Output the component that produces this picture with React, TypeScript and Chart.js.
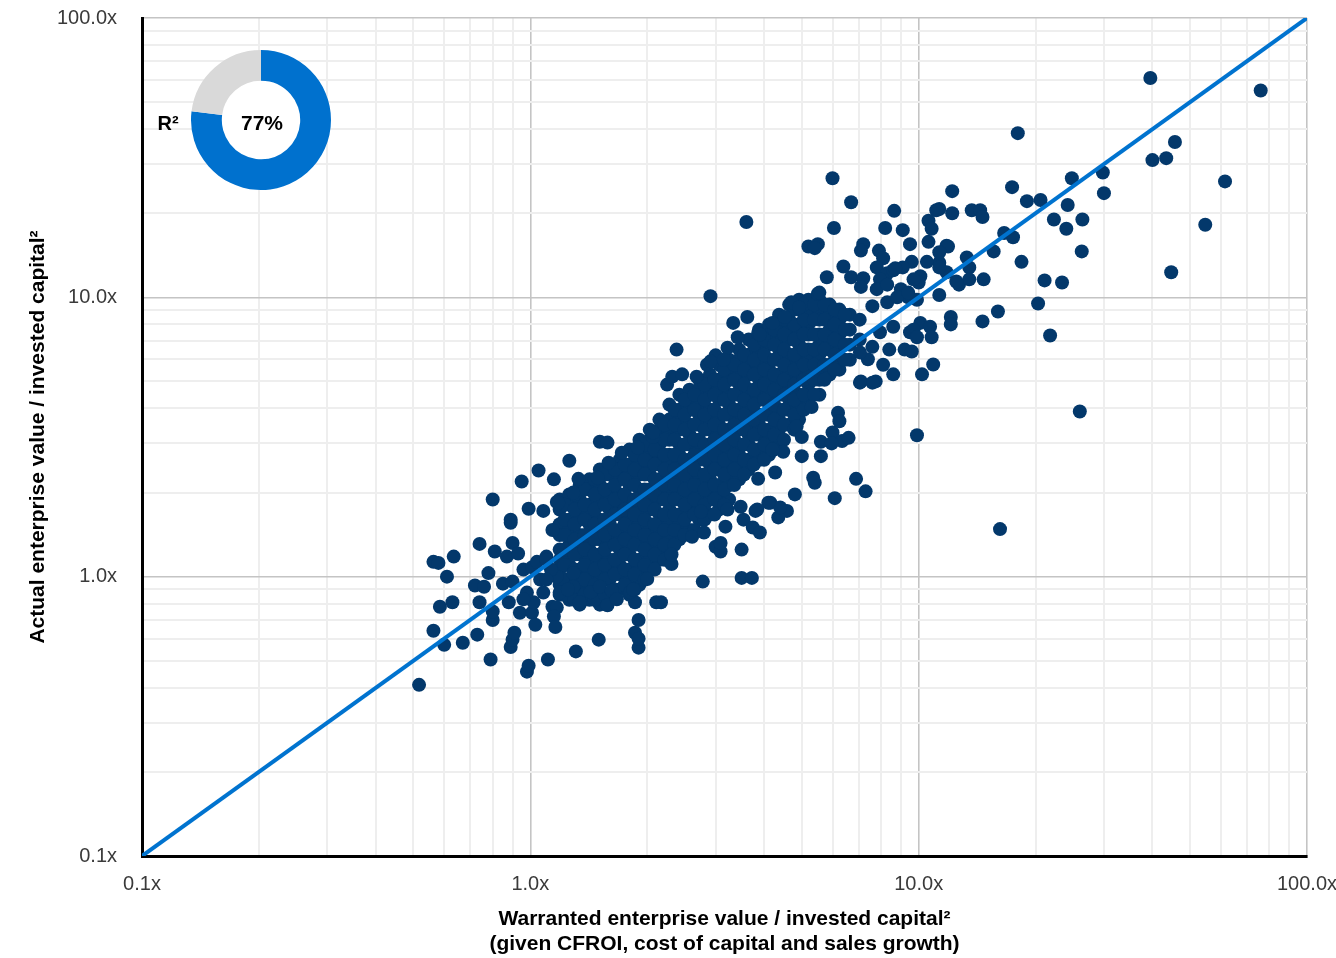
import React, { useEffect, useRef } from 'react';
import { Chart, registerables } from 'chart.js';

Chart.register(...registerables);

// ---------- axis / labels ----------
const axisMin = 0.1;
const axisMax = 100;
const gridValues = [
  0.1, 0.2, 0.3, 0.4, 0.5, 0.6, 0.7, 0.8, 0.9,
  1, 2, 3, 4, 5, 6, 7, 8, 9,
  10, 20, 30, 40, 50, 60, 70, 80, 90,
  100,
];
const labelledValues = [0.1, 1, 10, 100];
const tickLabels = ['0.1x', '1.0x', '10.0x', '100.0x'];
const xTitle = ['Warranted enterprise value / invested capital²', '(given CFROI, cost of capital and sales growth)'];
const yTitle = 'Actual enterprise value / invested capital²';
const parityLine = [0.1, 100];
const rSquared = 77;

// ---------- dense core of the cloud (warranted x, list of actual y) ----------
const coreX = [1.19, 1.26, 1.34, 1.42, 1.51, 1.6, 1.7, 1.8, 1.91, 2.03, 2.15, 2.28, 2.42, 2.57, 2.72, 2.9, 3.06, 3.25, 3.45, 3.65, 3.88, 4.12, 4.37, 4.64, 4.92, 5.2, 5.55, 5.9, 6.25, 6.65, 7.05];
const coreY = [
  [1.89, 1.74, 1.54, 1.41, 1.25, 1.15, 1.06, 0.936, 0.862],
  [1.97, 1.81, 1.6, 1.47, 1.3, 1.2, 1.1, 0.976, 0.899, 0.827],
  [2.13, 1.89, 1.74, 1.6, 1.41, 1.3, 1.2, 1.06, 0.976, 0.899, 0.794],
  [2.23, 2.05, 1.81, 1.67, 1.54, 1.36, 1.25, 1.15, 1.02, 0.936, 0.827],
  [2.42, 2.13, 1.97, 1.81, 1.6, 1.47, 1.36, 1.2, 1.1, 1.02, 0.899, 0.794],
  [2.52, 2.32, 2.05, 1.89, 1.74, 1.54, 1.41, 1.3, 1.15, 1.06, 0.976, 0.862],
  [2.62, 2.42, 2.23, 1.97, 1.81, 1.67, 1.47, 1.36, 1.25, 1.1, 1.02, 0.899],
  [2.85, 2.52, 2.32, 2.13, 1.89, 1.74, 1.6, 1.41, 1.3, 1.2, 1.06, 0.976, 0.862],
  [3.09, 2.73, 2.52, 2.32, 2.05, 1.89, 1.74, 1.54, 1.41, 1.3, 1.15, 1.06, 0.936],
  [3.36, 3.09, 2.73, 2.52, 2.32, 2.05, 1.89, 1.74, 1.54, 1.41, 1.3, 1.15, 1.06],
  [3.65, 3.36, 2.97, 2.73, 2.52, 2.23, 2.05, 1.89, 1.67, 1.54, 1.41, 1.25, 1.15],
  [4.13, 3.65, 3.36, 3.09, 2.73, 2.52, 2.32, 2.05, 1.89, 1.74, 1.54, 1.41, 1.25],
  [4.48, 3.96, 3.65, 3.36, 2.97, 2.73, 2.52, 2.23, 2.05, 1.89, 1.67, 1.54, 1.36],
  [4.67, 4.3, 3.96, 3.5, 3.22, 2.97, 2.62, 2.42, 2.23, 1.97, 1.81, 1.67, 1.47],
  [5.07, 4.67, 4.13, 3.8, 3.5, 3.09, 2.85, 2.62, 2.32, 2.13, 1.97, 1.74, 1.6],
  [5.29, 4.87, 4.48, 3.96, 3.65, 3.36, 2.97, 2.73, 2.52, 2.23, 2.05, 1.89, 1.67],
  [5.74, 5.07, 4.67, 4.3, 3.8, 3.5, 3.22, 2.85, 2.62, 2.42, 2.13, 1.97, 1.74],
  [5.98, 5.51, 5.07, 4.48, 4.13, 3.8, 3.36, 3.09, 2.85, 2.52, 2.32, 2.13, 1.89],
  [6.5, 5.98, 5.29, 4.87, 4.48, 3.96, 3.65, 3.36, 2.97, 2.73, 2.52, 2.23],
  [7.06, 6.23, 5.74, 5.29, 4.67, 4.3, 3.96, 3.5, 3.22, 2.97, 2.62, 2.42],
  [7.66, 6.77, 6.23, 5.74, 5.07, 4.67, 4.3, 3.8, 3.5, 3.22, 2.85, 2.62],
  [7.99, 7.36, 6.77, 5.98, 5.51, 5.07, 4.48, 4.13, 3.8, 3.36, 3.09, 2.73],
  [8.67, 7.99, 7.06, 6.5, 5.98, 5.29, 4.87, 4.48, 3.96, 3.65, 3.36, 2.97],
  [9.42, 8.32, 7.66, 7.06, 6.23, 5.74, 5.29, 4.67, 4.3, 3.96, 3.5],
  [9.81, 9.04, 7.99, 7.36, 6.77, 5.98, 5.51, 5.07, 4.48, 4.13, 3.65],
  [9.81, 8.67, 7.99, 7.36, 6.5, 5.98, 5.51, 4.87, 4.48, 4.13],
  [9.81, 9.04, 8.32, 7.36, 6.77, 6.23, 5.51, 5.07, 4.48],
  [9.42, 8.67, 7.66, 7.06, 6.5, 5.74, 5.29],
  [9.04, 8.32, 7.36, 6.77, 5.98, 5.51],
  [8.67, 7.66, 6.77, 5.98],
  [8.32, 7.06],
];

// in-between columns of the dense core
const coreMidX = [1.225, 1.3, 1.38, 1.465, 1.555, 1.65, 1.75, 1.855, 1.97, 2.09, 2.215, 2.35, 2.495, 2.645, 2.81, 2.98, 3.155, 3.35, 3.55, 3.765, 4.0, 4.245, 4.5, 4.78, 5.06, 5.375, 5.72, 6.07, 6.45];
const coreMidY = [
  [1.81, 1.6, 1.41, 1.25, 1.1, 0.976, 0.862],
  [1.97, 1.74, 1.54, 1.36, 1.2, 1.06, 0.936, 0.827],
  [2.05, 1.81, 1.6, 1.41, 1.25, 1.1, 0.976, 0.862],
  [2.23, 1.97, 1.74, 1.54, 1.36, 1.2, 1.06, 0.936, 0.827],
  [2.32, 2.05, 1.81, 1.6, 1.41, 1.25, 1.1, 0.976, 0.862],
  [2.42, 2.13, 1.89, 1.67, 1.47, 1.3, 1.15, 1.02, 0.899],
  [2.52, 2.23, 1.97, 1.74, 1.54, 1.36, 1.2, 1.06, 0.936],
  [2.73, 2.42, 2.13, 1.89, 1.67, 1.47, 1.3, 1.15, 1.02, 0.899],
  [2.97, 2.62, 2.32, 2.05, 1.81, 1.6, 1.41, 1.25, 1.1, 0.976],
  [3.22, 2.85, 2.52, 2.23, 1.97, 1.74, 1.54, 1.36, 1.2, 1.06],
  [3.5, 3.09, 2.73, 2.42, 2.13, 1.89, 1.67, 1.47, 1.3, 1.15],
  [3.96, 3.5, 3.09, 2.73, 2.42, 2.13, 1.89, 1.67, 1.47, 1.3],
  [4.3, 3.8, 3.36, 2.97, 2.62, 2.32, 2.05, 1.81, 1.6, 1.41],
  [4.48, 3.96, 3.5, 3.09, 2.73, 2.42, 2.13, 1.89, 1.67, 1.47],
  [4.87, 4.3, 3.8, 3.36, 2.97, 2.62, 2.32, 2.05, 1.81, 1.6],
  [5.07, 4.48, 3.96, 3.5, 3.09, 2.73, 2.42, 2.13, 1.89, 1.67],
  [5.51, 4.87, 4.3, 3.8, 3.36, 2.97, 2.62, 2.32, 2.05, 1.81],
  [5.74, 5.07, 4.48, 3.96, 3.5, 3.09, 2.73, 2.42, 2.13],
  [6.23, 5.51, 4.87, 4.3, 3.8, 3.36, 2.97, 2.62, 2.32],
  [6.77, 5.98, 5.29, 4.67, 4.13, 3.65, 3.22, 2.85, 2.52],
  [7.06, 6.23, 5.51, 4.87, 4.3, 3.8, 3.36, 2.97, 2.62],
  [7.66, 6.77, 5.98, 5.29, 4.67, 4.13, 3.65, 3.22, 2.85],
  [8.32, 7.36, 6.5, 5.74, 5.07, 4.48, 3.96, 3.5, 3.09],
  [9.04, 7.99, 7.06, 6.23, 5.51, 4.87, 4.3, 3.8, 3.36],
  [9.42, 8.32, 7.36, 6.5, 5.74, 5.07, 4.48, 3.96],
  [9.42, 8.32, 7.36, 6.5, 5.74, 5.07, 4.48],
  [9.42, 8.32, 7.36, 6.5, 5.74, 5.07],
  [9.04, 7.99, 7.06, 6.23, 5.51],
  [8.67, 7.66, 6.77, 5.98],
];

// ---------- scattered companies [warranted, actual] ----------
const highValueFirms: [number, number][] = [
  [39.5, 61], [76, 55], [18, 38.7], [45.7, 36], [40, 31], [43.4, 31.5], [61.5, 26], [54.7, 18.2], [44.7, 12.3], [26, 3.9], [16.2, 1.48],
  [24.8, 26.7], [29.8, 28], [30, 23.6], [24.2, 21.4], [22.3, 19], [24, 17.6], [26.4, 19], [26.3, 14.6], [19, 22.1], [20.6, 22.3], [17.4, 24.8],
  [12.2, 24], [12.2, 20], [11.3, 20.7], [13.7, 20.5], [14.4, 20.5], [14.6, 19.4], [16.6, 17], [17.5, 16.4], [15.6, 14.6], [13.3, 13.9], [13.5, 12.8],
  [11.8, 15.3], [11.3, 13.3], [11.8, 12.3], [12.7, 11.1], [13.5, 11.6], [14.7, 11.6], [11.3, 10.2], [18.4, 13.4], [21.1, 11.5], [23.4, 11.3], [20.3, 9.5],
  [12.1, 8.5], [12.1, 8.0], [14.6, 8.2], [16.0, 8.9], [21.8, 7.3],
  [11.1, 20.5], [10.6, 18.8], [10.8, 17.6], [10.6, 15.8], [9.5, 15.5], [9.9, 3.21], [11.9, 15.2], [11.3, 14.5], [10.1, 8.1], [10.7, 7.85], [10.8, 7.2],
  [9.5, 7.5], [9.2, 6.5], [9.6, 6.4], [10.2, 5.3], [10.9, 5.75], [10.1, 11.9], [10.0, 11.3], [9.4, 10.0], [9.9, 9.8], [10.5, 13.4], [11.3, 12.8],
  [12.5, 11.4], [9.6, 13.4], [9.7, 11.6], [9.7, 7.66], [9.9, 7.2],
];

const upperMidFirms: [number, number][] = [
  [6.0, 26.7], [6.7, 21.9], [3.6, 18.6], [6.05, 17.7], [8.65, 20.4], [8.2, 17.7], [9.1, 17.4], [5.8, 11.8], [5.2, 15.2], [5.5, 15.5], [5.4, 15.0],
  [6.4, 12.9], [6.7, 11.8], [7.2, 11.7], [7.1, 10.9], [7.2, 15.5], [7.1, 14.7], [7.9, 14.7], [8.1, 13.8], [7.8, 12.8], [8.3, 12.2], [7.95, 11.6],
  [8.6, 12.5], [9.1, 12.8], [9.0, 10.7], [8.7, 12.7], [7.8, 10.7], [8.3, 11.1], [7.6, 9.3], [8.3, 9.6], [8.8, 10.0], [9.4, 10.4], [5.5, 10.3],
  [5.55, 10.4], [2.91, 10.1], [3.62, 8.5], [3.33, 8.1], [4.7, 9.6], [4.92, 9.2], [3.86, 7.45], [4.2, 8.1], [4.52, 8.5], [3.42, 7.2], [3.9, 7.36],
  [3.22, 6.6], [3.0, 6.2],
  [8.6, 5.3], [7.75, 5.0], [7.1, 5.0], [8.4, 6.5], [7.6, 6.65], [7.4, 6.0], [8.1, 5.74], [8.6, 7.85], [7.06, 6.35], [7.95, 7.5], [7.6, 4.95],
  [7.06, 4.95], [6.2, 3.86], [6.25, 3.6], [5.3, 4.05],
];

const upperLeftFirms: [number, number][] = [
  [1.51, 3.04], [1.58, 3.02], [1.26, 2.6], [1.05, 2.4], [1.15, 2.23], [0.95, 2.19], [1.33, 2.24], [1.49, 2.26], [1.59, 2.56], [1.72, 2.78],
  [1.89, 2.9], [2.07, 3.16], [2.07, 3.28], [2.25, 4.87], [2.32, 5.2], [2.46, 5.3], [2.38, 6.5], [2.68, 5.2], [2.85, 5.74], [2.91, 5.9],
  [3.15, 5.98], [1.17, 1.85], [1.29, 2.0], [1.18, 1.84], [1.14, 1.47],
];

const lowValueFirms: [number, number][] = [
  [0.517, 0.41], [0.79, 0.505], [0.98, 0.457], [0.99, 0.48], [1.11, 0.505], [1.31, 0.54], [1.5, 0.595], [1.9, 0.557], [1.9, 0.7], [0.89, 0.56],
  [0.9, 0.595], [0.91, 0.63], [0.73, 0.62], [0.67, 0.58], [0.6, 0.57], [0.563, 0.64], [0.585, 0.78], [0.63, 0.81], [0.61, 1.0], [0.563, 1.13],
  [0.58, 1.12], [0.635, 1.18], [0.74, 1.31], [0.8, 1.89], [0.72, 0.93], [0.76, 0.92], [0.74, 0.81], [0.78, 1.03], [0.8, 0.7], [0.8, 0.75],
  [0.81, 1.23], [0.87, 1.18], [0.9, 1.32], [0.93, 1.21], [0.85, 0.944], [0.9, 0.96], [0.96, 1.06], [1.01, 1.08], [1.04, 1.13], [0.89, 1.56],
  [0.89, 1.6], [0.99, 1.75], [1.08, 1.72], [0.88, 0.81], [0.94, 0.743], [1.01, 0.743], [1.02, 0.81], [1.03, 0.673], [1.14, 0.78], [1.17, 0.775],
  [1.15, 0.72], [1.16, 0.66], [1.1, 1.18], [1.1, 1.15], [1.06, 0.976], [1.08, 0.877], [0.98, 0.877], [0.96, 0.83], [1.34, 0.81], [1.58, 0.79],
  [1.86, 0.81], [2.0, 0.98], [2.11, 0.81], [1.21, 0.98], [1.29, 0.92], [1.43, 0.88], [1.51, 0.92], [1.62, 0.89], [1.17, 1.0], [1.19, 0.877],
  [1.25, 0.9], [1.29, 1.03], [1.13, 1.06], [1.1, 0.976], [1.86, 0.63], [1.81, 0.88], [1.67, 0.83], [1.84, 0.9], [2.31, 1.11],
];

const lowerRightFirms: [number, number][] = [
  [6.08, 1.91], [3.5, 0.99], [3.72, 0.99], [2.78, 0.96], [2.17, 0.81], [1.9, 0.6], [5.35, 2.26], [5.4, 2.17], [4.8, 1.97], [4.58, 1.72],
  [4.35, 1.63], [4.15, 1.84], [3.8, 1.72], [3.5, 1.25], [3.0, 1.28], [3.09, 1.23], [3.18, 1.51], [3.54, 1.6], [3.74, 1.5], [3.9, 1.44],
  [5.6, 2.7], [5.0, 2.7], [6.0, 3.28], [6.35, 3.06], [4.85, 3.45], [5.0, 3.16], [3.09, 1.32], [6.9, 2.24], [7.3, 2.02], [4.48, 2.8],
  [4.2, 2.85], [4.27, 2.36], [3.86, 2.24], [5.6, 3.04], [5.97, 3.0], [6.6, 3.14], [2.75, 1.71], [3.22, 1.74], [3.48, 1.78], [2.61, 1.39],
  [2.8, 1.44], [2.31, 1.2], [4.4, 1.77], [4.1, 1.84], [3.84, 1.74],
];

// ---------- styling ----------
const FONT = "'Liberation Sans', Arial, Helvetica, sans-serif";
const DOT = '#03386b';
const LINE = '#0073cf';
const DONUT_BLUE = '#0071ce';
const DONUT_GREY = '#d9d9d9';

export default function App() {
  const mainRef = useRef<HTMLCanvasElement>(null);
  const donutRef = useRef<HTMLCanvasElement>(null);

  useEffect(() => {
    Chart.defaults.font.family = FONT;
    const points: { x: number; y: number }[] = [];
    coreX.forEach((x, i) => coreY[i].forEach((y) => points.push({ x, y })));
    coreMidX.forEach((x, i) => coreMidY[i].forEach((y) => points.push({ x, y })));
    [highValueFirms, upperMidFirms, upperLeftFirms, lowValueFirms, lowerRightFirms].forEach((arr) =>
      arr.forEach(([x, y]) => points.push({ x, y }))
    );

    const isMajor = (v: number) => labelledValues.indexOf(v) >= 0;
    const labelFor = (v: any) => {
      const i = labelledValues.indexOf(Number(v));
      return i >= 0 ? tickLabels[i] : '';
    };
    const gridStyle = {
      color: (c: any) => (c.tick && isMajor(c.tick.value) ? '#c4c4c4' : '#eeeeee'),
      lineWidth: (c: any) => (c.tick && isMajor(c.tick.value) ? 1.6 : 2),
      drawTicks: false,
    };
    const tickFont = { family: FONT, size: 20, weight: 'normal' as const };
    const titleFont = { family: FONT, size: 21, weight: 'bold' as const };

    const main = new Chart(mainRef.current as HTMLCanvasElement, {
      type: 'scatter',
      data: {
        datasets: [
          {
            label: 'Parity',
            data: parityLine.map((v) => ({ x: v, y: v })),
            showLine: true,
            borderColor: LINE,
            borderWidth: 4,
            pointRadius: 0,
            fill: false,
            order: 0,
          } as any,
          {
            label: 'Companies',
            data: points,
            backgroundColor: DOT,
            pointBackgroundColor: DOT,
            pointBorderWidth: 0,
            borderWidth: 0,
            pointRadius: 7,
            pointHoverRadius: 7,
            order: 1,
          } as any,
        ],
      },
      options: {
        responsive: false,
        animation: false,
        devicePixelRatio: 1,
        events: [],
        layout: { padding: { top: 18, right: 29, bottom: 0, left: 0 } },
        plugins: { legend: { display: false }, tooltip: { enabled: false } },
        scales: {
          x: {
            type: 'logarithmic',
            position: 'bottom',
            min: axisMin,
            max: axisMax,
            afterBuildTicks: (s: any) => {
              s.ticks = gridValues.map((v) => ({ value: v }));
            },
            afterFit: (s: any) => {
              s.height = 102;
              s.paddingLeft = 0;
              s.paddingRight = 0;
            },
            ticks: { autoSkip: false, maxRotation: 0, padding: 16, color: '#3a3a3a', font: tickFont, callback: labelFor },
            grid: gridStyle as any,
            border: { display: true, color: '#000000', width: 3 },
            title: { display: true, text: xTitle, color: '#000000', font: titleFont, padding: { top: 0, bottom: 1 } },
          },
          y: {
            type: 'logarithmic',
            position: 'left',
            min: axisMin,
            max: axisMax,
            afterBuildTicks: (s: any) => {
              s.ticks = gridValues.map((v) => ({ value: v }));
            },
            afterFit: (s: any) => {
              s.width = 142;
              s.paddingTop = 0;
              s.paddingBottom = 0;
            },
            ticks: { autoSkip: false, padding: 25, color: '#3a3a3a', font: tickFont, callback: labelFor },
            grid: gridStyle as any,
            border: { display: true, color: '#000000', width: 3 },
            title: { display: true, text: yTitle, color: '#000000', font: titleFont, padding: { top: 26, bottom: 0 } },
          },
        },
      } as any,
    });

    const donutText = {
      id: 'donutText',
      beforeDatasetsDraw(chart: any) {
        const arc = chart.getDatasetMeta(0).data[0];
        if (!arc) return;
        const ctx = chart.ctx;
        ctx.save();
        ctx.fillStyle = '#ffffff';
        ctx.beginPath();
        ctx.arc(arc.x, arc.y, arc.innerRadius, 0, Math.PI * 2);
        ctx.fill();
        ctx.restore();
      },
      afterDraw(chart: any) {
        const arc = chart.getDatasetMeta(0).data[0];
        if (!arc) return;
        const ctx = chart.ctx;
        ctx.save();
        ctx.fillStyle = '#000000';
        ctx.textAlign = 'center';
        ctx.textBaseline = 'middle';
        ctx.font = `bold 21px ${FONT}`;
        ctx.fillText(`${rSquared}%`, arc.x + 1, arc.y + 4);
        ctx.font = `bold 20px ${FONT}`;
        ctx.fillText('R²', 18, arc.y + 4);
        ctx.restore();
      },
    };

    const donut = new Chart(donutRef.current as HTMLCanvasElement, {
      type: 'doughnut',
      data: {
        labels: ['R²', 'Unexplained'],
        datasets: [
          {
            data: [rSquared, 100 - rSquared],
            backgroundColor: [DONUT_BLUE, DONUT_GREY],
            borderWidth: 0,
          },
        ],
      },
      options: {
        responsive: false,
        animation: false,
        devicePixelRatio: 1,
        events: [],
        cutout: '56%',
        layout: { padding: { left: 41, top: 0, right: 0, bottom: 0 } },
        plugins: { legend: { display: false }, tooltip: { enabled: false } },
      } as any,
      plugins: [donutText],
    });

    return () => {
      main.destroy();
      donut.destroy();
    };
  }, []);

  return (
    <div style={{ position: 'absolute', left: 0, top: 0, width: 1336, height: 958, background: '#ffffff' }}>
      <canvas
        ref={mainRef}
        width={1336}
        height={958}
        style={{ position: 'absolute', left: 0, top: 0, width: 1336, height: 958 }}
      />
      <canvas
        ref={donutRef}
        width={181}
        height={140}
        style={{ position: 'absolute', left: 150, top: 50, width: 181, height: 140 }}
      />
    </div>
  );
}
